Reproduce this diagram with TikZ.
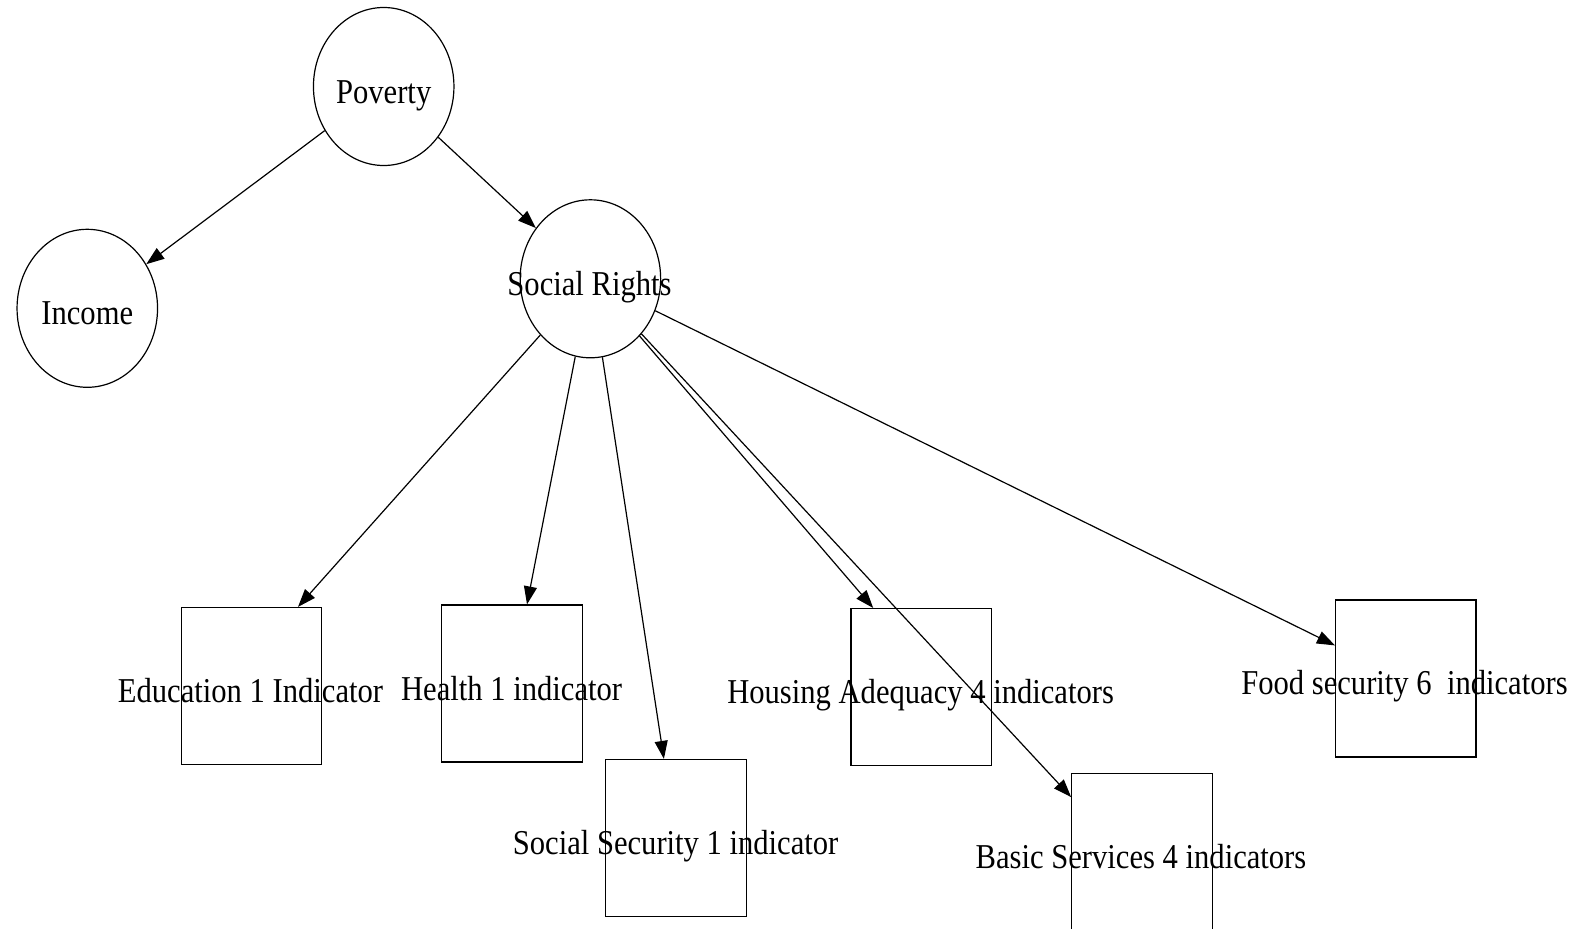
\documentclass[tikz,border=0pt]{standalone}
\usepackage{graphicx}
\usepackage{fontspec}
\setmainfont{Liberation Serif}
\usetikzlibrary{arrows.meta,shapes.geometric}
\newcommand{\lbl}[1]{\scalebox{1}[1.14]{#1}}
\tikzset{
  circ/.style={draw, ellipse, line width=1.2pt, minimum width=140.5pt, minimum height=158pt, inner sep=0pt},
  boxnode/.style={draw, rectangle, line width=1.2pt, minimum width=140.5pt, minimum height=157pt, inner sep=0pt},
  txt/.style={anchor=base, inner sep=0pt, font=\fontsize{30.6}{34}\selectfont},
  arr/.style={-{Triangle[length=18pt,width=13pt]}, line width=1.2pt},
}
\begin{document}
\begin{tikzpicture}[x=1pt,y=-1pt]
\clip (0,0) rectangle (1596,929);
\fill[white] (0,0) rectangle (1596,929);
% ellipses
\node[circ] (pov) at (383.7,86.5) {};
\node[circ] (inc) at (87.3,308.3) {};
\node[circ] (sr) at (590.4,278.8) {};
\node[txt] (povt) at (383.7,103) {\lbl{Poverty}};
\node[txt] (inct) at (87.3,324.8) {\lbl{Income}};
\node[txt] (srt) at (589.5,295.3) {\lbl{Social Rights}};
% boxes
\node[boxnode] (edu) at (251.4,686) {};
\node[boxnode] (hea) at (512,683.5) {};
\node[boxnode] (ss) at (675.9,838) {};
\node[boxnode] (hou) at (921.2,687.1) {};
\node[boxnode] (bas) at (1142,852.1) {};
\node[boxnode] (foo) at (1405.8,678.4) {};
\node[txt] (edut) at (250.5,702.5) {\lbl{Education 1 Indicator}};
\node[txt] (heat) at (511.6,700) {\lbl{Health 1 indicator}};
\node[txt] (sst) at (675.6,854.3) {\lbl{Social Security 1 indicator}};
\node[txt] (hout) at (920.6,703.6) {\lbl{Housing Adequacy 4 indicators}};
\node[txt] (bast) at (1141,868.4) {\lbl{Basic Services 4 indicators}};
\node[txt] (foot) at (1404.5,694.9) {\lbl{Food security 6\ \ indicators}};
% connectors
\draw[arr] (pov) -- (inc);
\draw[arr] (pov) -- (sr);
\draw[arr] (sr) -- ([xshift=46.6pt]edu.north);
\draw[arr] (sr) -- ([xshift=15pt]hea.north);
\draw[arr] (sr) -- ([xshift=-12pt]ss.north);
\draw[arr] (sr) -- ([xshift=-48pt]hou.north);
\draw[arr] (sr) -- ([yshift=55pt]bas.west);
\draw[arr] (sr) -- ([yshift=33pt]foo.west);
\end{tikzpicture}
\end{document}
